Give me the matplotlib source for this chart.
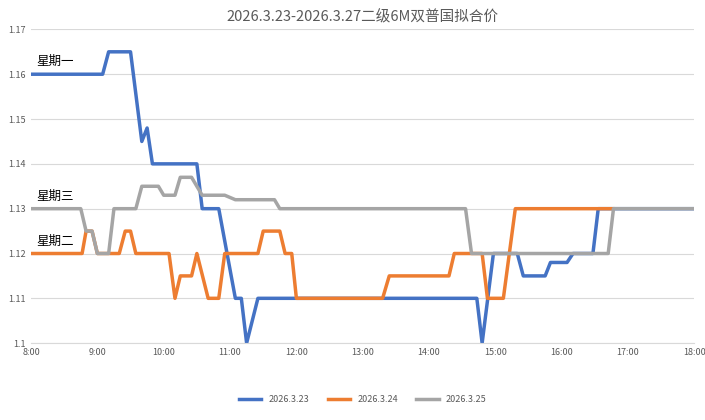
import matplotlib
matplotlib.use("Agg")
import matplotlib.pyplot as plt

plt.rcParams['font.family'] = ['Noto Sans CJK SC', 'DejaVu Sans']

# time in decimal hours
mon_t = [8, 9.08, 9.17, 9.5, 9.67, 9.75, 9.83, 10.5, 10.58, 10.83, 11.08, 11.17, 11.25, 11.42,
         14.72, 14.8, 14.97, 15.33, 15.42, 15.75, 15.83, 16.08, 16.17, 16.47, 16.55, 18]
mon_v = [1.16, 1.16, 1.165, 1.165, 1.145, 1.148, 1.14, 1.14, 1.13, 1.13, 1.11, 1.11, 1.10, 1.11,
         1.11, 1.10, 1.12, 1.12, 1.115, 1.115, 1.118, 1.118, 1.12, 1.12, 1.13, 1.13]

tue_t = [8, 8.77, 8.83, 8.92, 9.0, 9.33, 9.42, 9.5, 9.58, 10.08, 10.17, 10.25, 10.42, 10.5,
         10.67, 10.83, 10.92, 11.42, 11.5, 11.75, 11.83, 11.93, 12.0, 13.3, 13.4, 14.3, 14.38,
         14.8, 14.88, 15.12, 15.3, 16.77]
tue_v = [1.12, 1.12, 1.125, 1.125, 1.12, 1.12, 1.125, 1.125, 1.12, 1.12, 1.11, 1.115, 1.115, 1.12,
         1.11, 1.11, 1.12, 1.12, 1.125, 1.125, 1.12, 1.12, 1.11, 1.11, 1.115, 1.115, 1.12,
         1.12, 1.11, 1.11, 1.13, 1.13]

wed_t = [8, 8.75, 8.83, 8.92, 9.0, 9.17, 9.25, 9.58, 9.67, 9.92, 10.0, 10.17, 10.25, 10.42,
         10.58, 10.92, 11.08, 11.67, 11.75, 14.55, 14.64, 16.7, 16.78, 18]
wed_v = [1.13, 1.13, 1.125, 1.125, 1.12, 1.12, 1.13, 1.13, 1.135, 1.135, 1.133, 1.133, 1.137, 1.137,
         1.133, 1.133, 1.132, 1.132, 1.13, 1.13, 1.12, 1.12, 1.13, 1.13]

hours = list(range(8, 19))
tick_labels = [f"{h}:00" for h in hours]

fig, ax = plt.subplots(figsize=(7.05, 4.2), dpi=100)
fig.subplots_adjust(left=0.044, right=0.985, top=0.93, bottom=0.183)

ax.plot(mon_t, mon_v, color="#4472C4", lw=2.5, label="2026.3.23")
ax.plot(tue_t, tue_v, color="#ED7D31", lw=2.5, label="2026.3.24")
ax.plot(wed_t, wed_v, color="#A5A5A5", lw=2.5, label="2026.3.25")

ax.text(8.08, 1.1615, "星期一", fontsize=9, va="bottom")
ax.text(8.08, 1.1312, "星期三", fontsize=9, va="bottom")
ax.text(8.08, 1.1212, "星期二", fontsize=9, va="bottom")

ax.set_xlim(8, 18)
ax.set_ylim(1.1, 1.17)
ax.set_xticks(hours)
ax.set_xticklabels(tick_labels)
ax.set_yticks([1.10, 1.11, 1.12, 1.13, 1.14, 1.15, 1.16, 1.17])
ax.set_yticklabels(["1.1", "1.11", "1.12", "1.13", "1.14", "1.15", "1.16", "1.17"])
ax.tick_params(labelsize=6.5, colors="#595959", length=0)
ax.grid(axis="y", color="#D9D9D9", lw=0.8)
ax.set_axisbelow(True)
for s in ["top", "right", "left"]:
    ax.spines[s].set_visible(False)
ax.spines["bottom"].set_color("#D9D9D9")

ax.set_title("2026.3.23-2026.3.27二级6M双普国拟合价", fontsize=10.5, color="#595959")
ax.legend(loc="upper center", bbox_to_anchor=(0.5, -0.14), ncol=3, frameon=False,
          fontsize=6.5, handlelength=2.5, labelcolor="#595959")

fig.savefig("out.png")
